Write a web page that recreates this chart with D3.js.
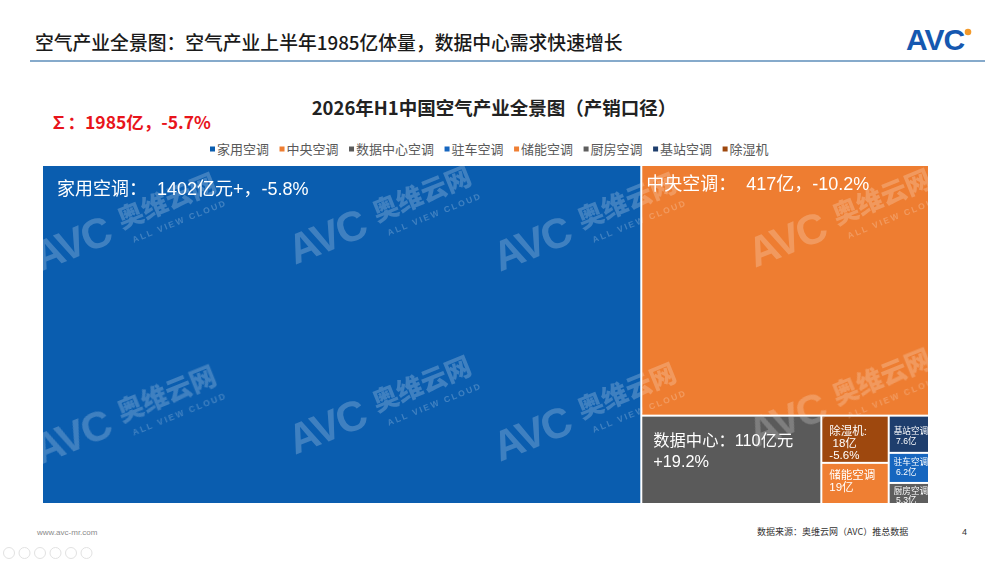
<!DOCTYPE html>
<html><head><meta charset="utf-8">
<script src="https://cdn.jsdelivr.net/npm/d3@7"></script>
<style>
body{margin:0;background:#fff}
svg{display:block}
text{white-space:pre}
</style>
</head><body>
<svg id="chart" width="1000" height="563"></svg>
<script>
// ---------------- data ----------------
const categories = ["家用空调","中央空调","数据中心空调","驻车空调","储能空调","厨房空调","基站空调","除湿机"];
// tile areas (in 亿, summing to ~1985)
const tileSize   = [1341, 476, 105, 8.0, 18.3, 5.6, 9.9, 21];
// values printed in the tile labels
const labelValue = [1402, 417, 110, 6.2, 19, 5.3, 7.6, 18];
const labelYoY   = [-5.8, -10.2, 19.2, null, null, null, null, -5.6];
// nesting of the treemap (group path of each category)
const tileGroup  = ["", "右", "右/下", "右/下/列2", "右/下/列1", "右/下/列2", "右/下/列2", "右/下/列1"];
const tileOrder  = ["家用空调","中央空调","数据中心空调","除湿机","储能空调","基站空调","驻车空调","厨房空调"];
const totalValue = 1985;
const totalYoY   = -5.7;

// ---------------- styles ----------------
const colors = {
  "家用空调":"#0A5DAF","中央空调":"#EE7D31","数据中心空调":"#5A5A5A","驻车空调":"#1666BF",
  "储能空调":"#EF7F33","厨房空调":"#5E5E5E","基站空调":"#1E3E6D","除湿机":"#9E480E"
};
const FONT = "'Liberation Sans', Arial, 'Noto Sans CJK SC', sans-serif";
const CJK  = "'Noto Sans CJK SC', 'Liberation Sans', sans-serif";
const fmtPct = v => (v > 0 ? "+" : "") + v.toFixed(1) + "%";

function labelLinesFor(i){
  const n = categories[i], v = labelValue[i], c = labelYoY[i];
  switch(n){
    case "家用空调": return [`家用空调：  ${v}亿元+，${fmtPct(c)}`];
    case "中央空调": return [`中央空调：  ${v}亿，${fmtPct(c)}`];
    case "数据中心空调": return [`数据中心：${v}亿元`, fmtPct(c)];
    case "除湿机": return ["除湿机:", ` ${v}亿`, fmtPct(c)];
    case "储能空调": return [n, `${v}亿`];
    default: return [n, ` ${v}亿`];
  }
}
const labelStyle = {
  "家用空调":{fs:18, dx:14, top:29, lh:22},
  "中央空调":{fs:18, dx:4, top:24, lh:22},
  "数据中心空调":{fs:16.3, dx:11, top:29, lh:21},
  "除湿机":{fs:11.5, dx:7, top:18, lh:12},
  "储能空调":{fs:11.5, dx:7, top:15, lh:12},
  "基站空调":{fs:8.6, dx:4, top:17, lh:10},
  "驻车空调":{fs:8.6, dx:4, top:11.5, lh:10},
  "厨房空调":{fs:8.6, dx:4, top:10, lh:9.5}
};

const svg = d3.select("#chart");

// ---------------- header ----------------
svg.append("text").attr("x",35).attr("y",50)
  .attr("font-family",CJK).attr("font-size",18.8).attr("font-weight",500).attr("fill","#1a1a1a")
  .text(`空气产业全景图：空气产业上半年${totalValue}亿体量，数据中心需求快速增长`);
svg.append("line").attr("x1",30).attr("x2",985).attr("y1",61).attr("y2",61)
  .attr("stroke","#86aacb").attr("stroke-width",2);
// logo
svg.append("text").attr("x",906).attr("y",50)
  .attr("font-family",FONT).attr("font-size",30).attr("font-weight",900).attr("fill","#1558B0")
  .attr("letter-spacing",-1).text("AVC");
svg.append("circle").attr("cx",968).attr("cy",32).attr("r",3.3).attr("fill","#F39A2B");

// chart title
svg.append("text").attr("x",494).attr("y",115).attr("text-anchor","middle")
  .attr("font-family",CJK).attr("font-size",18.5).attr("font-weight",700).attr("fill","#222")
  .text("2026年H1中国空气产业全景图（产销口径）");
// total
svg.append("text").attr("x",50).attr("y",129)
  .attr("font-family",CJK).attr("font-size",17.5).attr("font-weight",700).attr("fill","#E8141B")
  .text(`∑：${totalValue}亿，${fmtPct(totalYoY)}`);

// legend
const legend = svg.append("g").attr("transform","translate(210,149)");
let lx = 0;
categories.forEach(c => {
  const g = legend.append("g").attr("transform",`translate(${lx},0)`);
  g.append("rect").attr("x",0).attr("y",-2.5).attr("width",5).attr("height",5).attr("fill",colors[c]);
  const t = g.append("text").attr("x",7).attr("y",4.6)
    .attr("font-family",CJK).attr("font-size",13).attr("fill","#595959").text(c);
  lx += 7 + t.node().getComputedTextLength() + 10.5;
});

// ---------------- treemap ----------------
const rootData = {name:"root", children:[]};
tileOrder.forEach(name => {
  const i = categories.indexOf(name);
  let node = rootData;
  if (tileGroup[i]) tileGroup[i].split("/").forEach(gn => {
    let c = node.children.find(d => d.name === gn && d.children);
    if (!c) { c = {name:gn, children:[]}; node.children.push(c); }
    node = c;
  });
  node.children.push({name, index:i, value:tileSize[i]});
});
const W = 885, H = 337, X0 = 43, Y0 = 166;
const hier = d3.hierarchy(rootData).sum(d => d.value || 0);
d3.treemap().tile(d3.treemapSliceDice).size([W,H]).paddingInner(2).round(false)(hier);

const map = svg.append("g").attr("transform",`translate(${X0},${Y0})`);
const leaves = hier.leaves();
map.selectAll("rect.tile").data(leaves).join("rect").attr("class","tile")
  .attr("x",d=>d.x0).attr("y",d=>d.y0)
  .attr("width",d=>d.x1-d.x0).attr("height",d=>d.y1-d.y0)
  .attr("fill",d=>colors[d.data.name]);

// watermark (decorative)
const clip = svg.append("clipPath").attr("id","tclip");
clip.selectAll("rect").data(leaves).join("rect")
  .attr("x",d=>d.x0+X0).attr("y",d=>d.y0+Y0).attr("width",d=>d.x1-d.x0).attr("height",d=>d.y1-d.y0);
const wmPos = [[40,272],[295,265],[500,272],[755,268],[40,465],[295,455],[500,462],[755,448]];
const wm = svg.append("g").attr("clip-path","url(#tclip)").attr("fill","#fff").attr("opacity",0.22);
wmPos.forEach(([x,y]) => {
  const g = wm.append("g").attr("transform",`translate(${x},${y}) rotate(-22)`);
  g.append("text").attr("x",0).attr("y",0).attr("font-family",FONT).attr("font-size",42)
    .attr("font-weight",900).attr("letter-spacing",-2).text("AVC");
  g.append("text").attr("x",92).attr("y",-9).attr("font-family",CJK).attr("font-size",26)
    .attr("font-weight",900).text("奥维云网");
  g.append("text").attr("x",98).attr("y",8).attr("font-family",FONT).attr("font-size",8.5)
    .attr("font-weight",700).attr("letter-spacing",2).text("ALL VIEW CLOUD");
});

// tile labels
const labels = svg.append("g").attr("transform",`translate(${X0},${Y0})`);
leaves.forEach(d => {
  const st = labelStyle[d.data.name];
  const t = labels.append("text").attr("font-family",FONT).attr("font-size",st.fs).attr("fill","#fff");
  labelLinesFor(d.data.index).forEach((line,k) => {
    t.append("tspan").attr("x",d.x0+st.dx).attr("y",d.y0+st.top+k*st.lh).text(line);
  });
});

// ---------------- footer ----------------
svg.append("text").attr("x",37).attr("y",535).attr("font-family",FONT).attr("font-size",8)
  .attr("fill","#8a8a8a").text("www.avc-mr.com");
svg.append("text").attr("x",757).attr("y",535).attr("font-family",CJK).attr("font-size",9)
  .attr("fill","#333").text("数据来源：奥维云网（AVC）推总数据");
svg.append("text").attr("x",962).attr("y",535).attr("font-family",FONT).attr("font-size",9)
  .attr("fill","#333").text("4");
const icons = svg.append("g").attr("fill","none").attr("stroke","#e2e2e2");
d3.range(6).forEach(k => icons.append("circle").attr("cx",9+k*15.5).attr("cy",553).attr("r",5.5));
</script>
</body></html>
